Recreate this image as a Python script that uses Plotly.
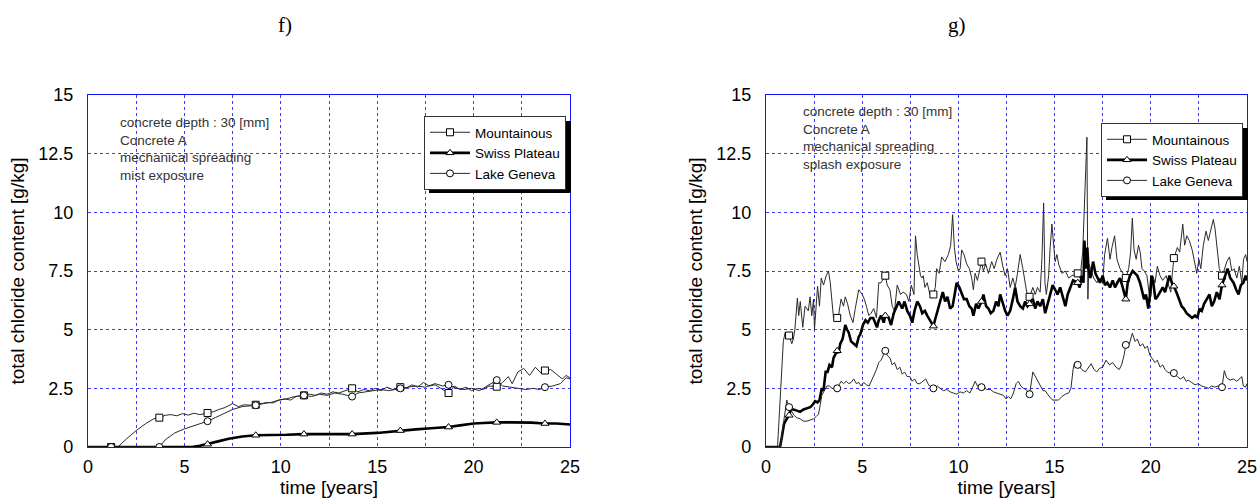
import numpy as np
import plotly.graph_objects as go

# ---------------- data ----------------
marker_times = [1.2, 3.7, 6.2, 8.7, 11.2, 13.7, 16.2, 18.7, 21.2, 23.7]
x_tick_vals = [0, 5, 10, 15, 20, 25]
x_tick_text = ["0", "5", "10", "15", "20", "25"]
y_tick_vals = [0, 2.5, 5, 7.5, 10, 12.5, 15]
y_tick_text = ["0", "2.5", "5", "7.5", "10", "12.5", "15"]
series_names = ["Mountainous", "Swiss Plateau", "Lake Geneva"]

# f) mist exposure
f_mount_t = [0, 1.2, 1.55, 2.0, 2.5, 3.0, 3.4, 3.7, 4.0, 4.3, 4.6, 4.9, 5.2, 5.5, 5.8, 6.2, 6.5, 6.8, 7.1, 7.5, 7.8, 8.1, 8.4, 8.7,
             9.0, 9.3, 9.6, 9.9, 10.2, 10.5, 10.8, 11.2, 11.5, 11.8, 12.1, 12.4, 12.7, 13.0, 13.3, 13.7, 14.0, 14.3, 14.6,
             14.9, 15.2, 15.5, 15.8, 16.2, 16.5, 16.8, 17.1, 17.4, 17.7, 18.0, 18.3, 18.7, 19.0, 19.3, 19.6, 19.9, 20.2,
             20.5, 20.8, 21.2, 21.5, 21.8, 22.0, 22.3, 22.6, 22.9, 23.2, 23.5, 23.7, 24.0, 24.3, 24.6, 24.8, 25.0]
f_mount_v = [0, 0, 0, 0.35, 0.7, 1.0, 1.2, 1.25, 1.35, 1.38, 1.33, 1.42, 1.36, 1.44, 1.38, 1.45, 1.5, 1.6, 1.68, 1.85, 1.72, 1.8, 1.78, 1.8,
             1.85, 1.9, 1.88, 2.0, 2.05, 2.0, 2.15, 2.2, 2.25, 2.2, 2.3, 2.25, 2.35, 2.3, 2.4, 2.5, 2.35, 2.45, 2.4,
             2.5, 2.4, 2.55, 2.45, 2.55, 2.5, 2.65, 2.55, 2.75, 2.6, 2.65, 2.5, 2.3, 2.6, 2.45, 2.55, 2.4, 2.5,
             2.45, 2.6, 2.57, 2.75, 3.0, 2.7, 3.2, 3.35, 3.05, 3.4, 3.15, 3.26, 3.3, 3.1, 2.9, 3.05, 2.95]

f_swiss_t = [0, 1.2, 3.7, 5.4, 5.8, 6.2, 6.8, 7.3, 8.0, 8.7, 9.5, 10.3, 11.2, 12.5, 13.7, 15.0, 15.6, 16.2, 17.0, 17.8,
             18.7, 19.3, 20.0, 20.5, 21.2, 22.0, 23.0, 23.7, 24.3, 25.0]
f_swiss_v = [0, 0, 0, 0, 0.05, 0.12, 0.25, 0.35, 0.45, 0.5, 0.5, 0.52, 0.55, 0.55, 0.55, 0.6, 0.65, 0.7, 0.75, 0.8,
             0.85, 0.92, 1.0, 1.02, 1.05, 1.05, 1.04, 1.0, 1.0, 0.96]

f_lake_t = [0, 1.2, 3.7, 4.0, 4.5, 5.0, 5.5, 6.2, 6.6, 7.0, 7.5, 8.0, 8.7, 9.1, 9.5, 9.9, 10.3, 10.7, 11.2, 11.6, 12.0,
            12.4, 12.8, 13.2, 13.7, 14.0, 14.4, 14.8, 15.2, 15.6, 16.2, 16.6, 17.0, 17.5, 18.0, 18.4, 18.7, 19.1, 19.5,
            19.9, 20.3, 20.7, 21.2, 21.5, 21.9, 22.3, 22.7, 23.1, 23.4, 23.7, 24.1, 24.5, 24.8, 25.0]
f_lake_v = [0, 0, 0, 0.3, 0.6, 0.77, 0.9, 1.1, 1.25, 1.4, 1.6, 1.72, 1.78, 1.85, 1.9, 2.0, 2.05, 2.15, 2.2, 2.15, 2.25,
            2.2, 2.3, 2.25, 2.15, 2.3, 2.35, 2.4, 2.45, 2.4, 2.5, 2.55, 2.6, 2.55, 2.7, 2.6, 2.65, 2.5, 2.45,
            2.5, 2.4, 2.6, 2.85, 2.6, 2.55, 2.5, 2.45, 2.5, 2.45, 2.55, 2.6, 2.7, 2.95, 2.9]

# g) splash exposure
g_mount_t = [0, 0.6, 0.7, 0.8, 0.9, 1.0, 1.1, 1.2, 1.34, 1.42, 1.5, 1.63, 1.7, 1.78, 1.91, 2.03, 2.2, 2.29, 2.38, 2.47, 2.52,
             2.68, 2.78, 2.87, 2.99, 3.13, 3.25, 3.34, 3.43, 3.51, 3.7, 3.77, 3.9, 4.03, 4.12, 4.24, 4.38, 4.52, 4.64, 4.82,
             5.0, 5.11, 5.22, 5.34, 5.46, 5.6, 5.74, 5.86, 5.98, 6.2, 6.3, 6.44, 6.56, 6.68, 6.82, 6.99, 7.13, 7.3, 7.43,
             7.55, 7.69, 7.77, 7.86, 7.95, 8.03, 8.1, 8.17, 8.26, 8.38, 8.52, 8.7, 8.8, 8.87, 9.0, 9.13, 9.3, 9.48, 9.6,
             9.7, 9.79, 9.88, 10.0, 10.09, 10.17, 10.29, 10.43, 10.57, 10.69, 10.78, 10.87, 10.99, 11.2, 11.3, 11.42,
             11.56, 11.73, 11.86, 12.0, 12.17, 12.31, 12.43, 12.55, 12.69, 12.83, 12.95, 13.07, 13.21, 13.35, 13.47,
             13.59, 13.7, 13.87, 13.99, 14.11, 14.25, 14.34, 14.43, 14.5, 14.57, 14.69, 14.77, 14.86, 14.95, 15.03,
             15.12, 15.21, 15.38, 15.56, 15.73, 15.9, 16.2, 16.32, 16.46, 16.58, 16.68, 16.73, 16.78, 16.91, 17.03,
             17.2, 17.33, 17.5, 17.6, 17.75, 17.88, 17.98, 18.12, 18.24, 18.4, 18.55, 18.7, 18.85, 18.95, 19.04, 19.13,
             19.24, 19.36, 19.45, 19.54, 19.66, 19.8, 19.92, 20.0, 20.1, 20.22, 20.34, 20.48, 20.62, 20.8, 20.92,
             21.04, 21.12, 21.2, 21.38, 21.5, 21.66, 21.76, 21.87, 22.0, 22.15, 22.3, 22.39, 22.5, 22.6, 22.73, 22.87,
             22.99, 23.12, 23.25, 23.34, 23.43, 23.56, 23.7, 23.8, 23.95, 24.09, 24.21, 24.33, 24.47, 24.6, 24.73,
             24.82, 24.93, 25.0]
g_mount_v = [0, 0, 1.5, 3.2, 4.5, 4.9, 4.7, 4.75, 4.4, 4.6, 5.0, 6.35, 5.6, 6.2, 5.1, 6.0, 5.8, 6.4, 5.6, 6.3, 5.0,
             6.85, 6.0, 7.2, 6.9, 7.3, 7.5, 7.0, 6.2, 5.5, 5.5, 5.6, 6.3, 6.0, 6.4, 6.1, 5.6, 5.3, 5.9, 6.7,
             6.5, 6.3, 6.0, 5.6, 5.7, 5.9, 5.5, 7.0, 7.0, 7.3, 6.9, 6.7, 6.0, 5.8, 6.9, 6.5, 6.6, 6.5, 6.2,
             6.9, 6.5, 9.0, 8.2, 7.7, 7.3, 7.2, 7.3, 6.8, 7.0, 6.5, 6.5, 6.8, 7.6, 7.4, 8.1, 7.9, 8.2, 8.6,
             9.9, 8.5, 7.9, 7.5, 7.6, 8.4, 8.2, 7.8, 7.6, 7.2, 6.7, 7.4, 7.1, 7.9, 7.5, 7.8,
             7.4, 7.9, 7.6, 8.0, 8.3, 7.7, 7.3, 7.6, 6.8, 7.2, 6.8, 7.4, 8.2, 7.6, 6.9,
             6.4, 6.4, 6.8, 6.5, 6.8, 6.6, 8.0, 10.4, 7.0, 6.5, 7.3, 8.5, 9.5, 8.6, 7.9,
             8.2, 7.8, 7.4, 7.5, 7.2, 7.3, 7.4, 7.2, 8.3, 10.6, 13.2, 6.3, 7.8, 7.5, 7.2,
             7.0, 7.2, 7.0, 8.2, 8.9, 8.0, 8.5, 9.0, 8.0, 7.6, 7.4, 7.2, 7.6, 8.3, 9.75, 8.4,
             8.0, 8.6, 8.3, 7.6, 7.5, 7.3, 6.5, 6.4, 7.3, 7.0, 7.7, 7.3, 7.1, 7.3, 6.9,
             6.6, 7.4, 8.05, 8.5, 8.3, 9.5, 8.6, 9.0, 8.8, 8.4, 7.8, 7.4, 8.0, 7.6, 8.6, 9.2,
             8.8, 9.3, 9.7, 9.3, 8.5, 7.6, 7.3, 7.5, 7.9, 8.1, 7.5, 7.6, 7.2, 7.7, 7.0,
             8.0, 8.2, 7.9]

g_swiss_t = [0, 0.73, 0.82, 0.94, 1.08, 1.2, 1.3, 1.43, 1.6, 1.77, 1.95, 2.12, 2.3, 2.43, 2.55, 2.68, 2.78, 2.9, 2.99, 3.1,
             3.2, 3.3, 3.43, 3.51, 3.7, 3.77, 3.86, 3.98, 4.12, 4.21, 4.29, 4.42, 4.56, 4.7, 4.82, 4.9, 5.04, 5.17, 5.29,
             5.43, 5.57, 5.69, 5.77, 5.86, 5.98, 6.12, 6.2, 6.38, 6.5, 6.64, 6.78, 6.9, 7.08, 7.2, 7.34, 7.48, 7.6, 7.72,
             7.86, 8.0, 8.12, 8.26, 8.38, 8.52, 8.7, 8.78, 8.9, 9.05, 9.19, 9.31, 9.43, 9.57, 9.7, 9.83, 9.91, 10.05,
             10.17, 10.29, 10.43, 10.57, 10.69, 10.78, 10.92, 11.04, 11.2, 11.3, 11.44, 11.56, 11.68, 11.82, 11.96,
             12.08, 12.17, 12.31, 12.43, 12.55, 12.69, 12.83, 12.95, 13.07, 13.21, 13.35, 13.47, 13.59, 13.7, 13.87,
             13.99, 14.11, 14.25, 14.39, 14.51, 14.63, 14.77, 14.9, 15.03, 15.15, 15.29, 15.43, 15.56, 15.68, 15.82,
             15.96, 16.2, 16.3, 16.41, 16.5, 16.55, 16.62, 16.7, 16.76, 16.86, 17.0, 17.12, 17.22, 17.36, 17.5, 17.62,
             17.74, 17.88, 18.02, 18.14, 18.26, 18.4, 18.54, 18.7, 18.8, 18.92, 19.06, 19.18, 19.3, 19.44, 19.54,
             19.65, 19.75, 19.87, 19.96, 20.04, 20.13, 20.24, 20.34, 20.48, 20.62, 20.74, 20.86, 20.97, 21.09, 21.2,
             21.38, 21.48, 21.6, 21.72, 21.86, 22.0, 22.14, 22.3, 22.42, 22.53, 22.65, 22.77, 22.91, 23.05, 23.17,
             23.29, 23.43, 23.57, 23.7, 23.87, 23.99, 24.13, 24.3, 24.44, 24.56, 24.68, 24.81, 24.93, 25.0]
g_swiss_v = [0, 0, 0.4, 1.0, 1.2, 1.35, 1.6, 1.6, 1.55, 1.5, 1.6, 1.65, 1.7, 1.8, 1.95, 1.9, 2.0, 2.5, 2.4, 3.2,
             3.2, 3.5, 3.4, 3.8, 4.1, 4.0, 4.4, 4.6, 5.2, 5.0, 4.9, 4.5, 4.4, 4.3, 4.7, 4.8, 5.2, 5.4, 5.3,
             5.5, 5.5, 5.3, 5.1, 5.4, 5.6, 5.3, 5.6, 5.5, 5.2, 5.7, 6.0, 6.2, 5.9, 6.2, 5.8, 5.6, 5.3, 5.8,
             6.2, 6.0, 5.7, 5.8, 5.6, 5.4, 5.15, 5.4, 5.8, 6.2, 6.6, 6.2, 6.4, 5.9, 6.0, 6.6, 7.0, 6.8,
             6.5, 6.3, 6.3, 6.0, 5.9, 5.6, 6.1, 5.9, 6.2, 6.5, 6.0, 5.9, 5.7, 5.8, 6.2,
             6.0, 6.5, 6.1, 5.8, 5.6, 5.8, 6.3, 6.8, 6.2, 6.0, 5.9, 6.2, 6.0, 6.1, 6.3,
             5.9, 6.2, 6.0, 6.3, 5.7, 6.1, 6.5, 6.9, 6.7, 6.5, 6.8, 6.4, 6.0, 6.5, 6.8,
             7.1, 7.0, 6.8, 7.3, 7.0, 8.8, 7.6, 8.5, 7.6, 7.2, 7.9, 7.4, 7.2, 7.0, 7.3, 6.9,
             7.0, 6.8, 7.1, 6.8, 7.0, 7.2, 6.8, 6.3, 7.0, 7.3, 7.5, 7.4, 7.3, 7.0, 6.6,
             6.3, 6.5, 5.9, 6.5, 7.3, 7.0, 6.3, 6.4, 6.6, 6.8, 6.6, 7.0, 7.3, 7.0, 6.85,
             6.5, 6.3, 6.0, 5.9, 5.7, 5.6, 5.5, 5.6, 5.5, 5.9, 5.8, 6.1, 6.3, 6.5, 6.0,
             6.2, 6.6, 6.3, 6.9, 7.3, 7.6, 7.2, 7.0, 6.7, 6.5, 6.9, 7.0, 7.3, 7.1]

g_lake_t = [0, 0.75, 0.87, 0.99, 1.08, 1.2, 1.34, 1.46, 1.6, 1.77, 1.95, 2.12, 2.3, 2.47, 2.61, 2.73, 2.82, 2.9, 3.03,
            3.17, 3.3, 3.43, 3.7, 3.77, 3.9, 4.03, 4.17, 4.3, 4.42, 4.56, 4.7, 4.82, 4.94, 5.08, 5.22, 5.36, 5.48,
            5.6, 5.74, 5.86, 5.98, 6.2, 6.3, 6.44, 6.56, 6.68, 6.82, 6.96, 7.08, 7.2, 7.34, 7.48, 7.6, 7.72, 7.86,
            8.0, 8.13, 8.3, 8.42, 8.5, 8.7, 8.78, 8.9, 9.05, 9.22, 9.4, 9.57, 9.74, 9.91, 10.09, 10.26, 10.43, 10.6,
            10.74, 10.87, 10.99, 11.2, 11.3, 11.47, 11.65, 11.82, 11.99, 12.17, 12.34, 12.48, 12.6, 12.72, 12.86,
            13.0, 13.12, 13.24, 13.38, 13.52, 13.7, 13.87, 14.0, 14.12, 14.26, 14.4, 14.51, 14.63, 14.77, 14.91,
            15.03, 15.2, 15.38, 15.56, 15.73, 15.85, 15.96, 16.04, 16.2, 16.42, 16.6, 16.77, 16.9, 17.05, 17.19,
            17.33, 17.5, 17.67, 17.85, 18.02, 18.19, 18.36, 18.48, 18.61, 18.7, 18.89, 19.04, 19.18, 19.3, 19.44,
            19.58, 19.7, 19.82, 19.96, 20.1, 20.22, 20.34, 20.48, 20.62, 20.74, 20.86, 21.0, 21.14, 21.2, 21.44,
            21.56, 21.7, 21.84, 21.95, 22.12, 22.3, 22.47, 22.64, 22.82, 23.0, 23.16, 23.33, 23.5, 23.62, 23.7,
            23.82, 23.94, 24.12, 24.3, 24.47, 24.6, 24.73, 24.81, 24.93, 25.0]
g_lake_v = [0, 0, 0.8, 1.5, 2.0, 1.7, 1.5, 1.35, 1.25, 1.2, 1.1, 1.1, 1.15, 1.2, 1.3, 1.4, 1.8, 2.2, 2.4,
            2.6, 2.6, 2.5, 2.5, 2.6, 2.8, 2.7, 2.8, 2.7, 2.75, 2.9, 2.7, 2.75, 2.6, 2.75, 2.65, 2.6, 2.8,
            3.0, 3.3, 3.6, 3.7, 4.1, 3.9, 3.8, 3.5, 3.6, 3.3, 3.4, 3.1, 3.2, 3.0, 3.0, 2.8, 2.9, 2.7,
            2.7, 2.8, 2.9, 2.7, 2.6, 2.5, 2.55, 2.6, 2.5, 2.4, 2.45, 2.35, 2.3, 2.25, 2.35, 2.3, 2.4, 2.3,
            2.55, 2.8, 2.6, 2.55, 2.6, 2.45, 2.45, 2.35, 2.3, 2.25, 2.2, 2.05, 2.15, 2.05, 2.3,
            2.7, 2.8, 2.6, 2.5, 2.45, 2.25, 3.2, 3.0, 2.8, 2.6, 2.4, 2.4, 2.25, 2.1, 2.0,
            2.0, 2.0, 2.15, 2.25, 2.3, 2.5, 3.3, 3.6, 3.5, 3.3, 3.2, 3.4, 3.55, 3.3, 3.2,
            3.35, 3.4, 3.7, 3.5, 3.6, 3.4, 3.3, 3.5, 3.9, 4.35, 4.4, 4.85, 4.5, 4.6, 4.3,
            4.4, 4.2, 4.3, 3.9, 3.75, 3.6, 3.7, 3.4, 3.5, 3.3, 3.2, 3.15, 3.2, 3.15, 2.95,
            2.9, 3.0, 2.8, 2.85, 2.75, 2.65, 2.7, 2.6, 2.55, 2.5, 2.6, 2.55, 2.6, 2.55, 2.55,
            3.25, 2.95, 2.85, 2.9, 2.8, 2.9, 3.0, 2.6, 2.55, 2.7]

# ---------------- figure ----------------
W, H = 1258, 502
FONT = "Liberation Sans, Arial, sans-serif"
AXIS_BLUE = "rgb(20,20,255)"
GRID_BLUE = "rgb(60,60,255)"
GRID_DASH = "dot"

styles = [
    dict(symbol="square", width=1.0, color="#2a2a2a"),
    dict(symbol="triangle-up", width=2.6, color="#000000"),
    dict(symbol="circle", width=1.0, color="#2a2a2a"),
]

panels = [
    (1, [(f_mount_t, f_mount_v), (f_swiss_t, f_swiss_v), (f_lake_t, f_lake_v)]),
    (2, [(g_mount_t, g_mount_v), (g_swiss_t, g_swiss_v), (g_lake_t, g_lake_v)]),
]

fig = go.Figure()
for p, data in panels:
    xa = "x" if p == 1 else "x2"
    ya = "y" if p == 1 else "y2"
    for i, (t, v) in enumerate(data):
        st = styles[i]
        t = np.asarray(t, float)
        v = np.asarray(v, float)
        fig.add_trace(go.Scatter(x=t, y=v, mode="lines", xaxis=xa, yaxis=ya,
                                 line=dict(color=st["color"], width=st["width"]),
                                 showlegend=False, hoverinfo="skip"))
        idx = [int(np.argmin(np.abs(t - m))) for m in marker_times]
        fig.add_trace(go.Scatter(x=t[idx], y=v[idx], mode="markers", xaxis=xa, yaxis=ya,
                                 marker=dict(symbol=st["symbol"], size=7, color="white",
                                             line=dict(color="black", width=1)),
                                 showlegend=False, hoverinfo="skip"))
        # legend entry
        fig.add_trace(go.Scatter(x=[None], y=[None], mode="lines+markers", xaxis=xa, yaxis=ya,
                                 name=series_names[i],
                                 legend="legend" if p == 1 else "legend2",
                                 line=dict(color=st["color"], width=st["width"]),
                                 marker=dict(symbol=st["symbol"], size=7, color="white",
                                             line=dict(color="black", width=1))))

dom_y = [(H - 447) / H, (H - 95) / H]
dom_x1 = [88 / W, 570 / W]
dom_x2 = [766 / W, 1247 / W]


def xaxis(dom, anchor):
    return dict(domain=dom, anchor=anchor, range=[0, 25], tickvals=x_tick_vals, ticktext=x_tick_text,
                automargin=False,
                showline=True, mirror=True, linecolor=AXIS_BLUE, linewidth=1.2,
                showgrid=True, gridcolor=GRID_BLUE, griddash=GRID_DASH, gridwidth=1,
                minor=dict(tickvals=[2.5, 7.5, 12.5, 17.5, 22.5], showgrid=True, gridcolor=GRID_BLUE,
                           griddash=GRID_DASH, gridwidth=1, ticks=""),
                zeroline=False, ticks="", ticklabelstandoff=3,
                tickfont=dict(family=FONT, size=18, color="black"),
                title=dict(text="time [years]", font=dict(family=FONT, size=19, color="black"), standoff=4))


def yaxis(dom, anchor):
    return dict(domain=dom, anchor=anchor, range=[0, 15], tickvals=y_tick_vals, ticktext=y_tick_text,
                automargin=False,
                showline=True, mirror=True, linecolor=AXIS_BLUE, linewidth=1.2,
                showgrid=True, gridcolor=GRID_BLUE, griddash=GRID_DASH, gridwidth=1,
                zeroline=False, ticks="", ticklabelstandoff=10,
                tickfont=dict(family=FONT, size=18, color="black"),
                title=dict(text="total chloride content [g/kg]", font=dict(family=FONT, size=19, color="black"),
                           standoff=8))


legend_common = dict(bgcolor="white", bordercolor="#333333", borderwidth=1,
                     font=dict(family=FONT, size=13.5, color="black"),
                     itemwidth=40, xanchor="right", yanchor="top", tracegroupgap=0,
                     itemclick=False)

fig.update_layout(
    template="none",
    width=W, height=H, margin=dict(l=0, r=0, t=0, b=0, autoexpand=False),
    paper_bgcolor="white", plot_bgcolor="white",
    xaxis=xaxis(dom_x1, "y"), yaxis=yaxis(dom_y, "x"),
    xaxis2=xaxis(dom_x2, "y2"), yaxis2=yaxis(dom_y, "x2"),
    legend=dict(x=566 / W, y=(H - 116) / H, **legend_common),
    legend2=dict(x=1243 / W, y=(H - 123) / H, **legend_common),
    showlegend=True,
)

# drop shadows of the legend boxes (a black block offset down-right behind each legend)
for (left, top, right, bottom) in [(424, 116, 566, 188), (1101, 123, 1243, 195)]:
    fig.add_shape(type="rect", xref="paper", yref="paper",
                  x0=(left + 5) / W, x1=(right + 5) / W, y0=(H - bottom - 5) / H, y1=(H - top - 5) / H,
                  fillcolor="black", line=dict(width=0), layer="above")

# panel labels and condition notes
fig.add_annotation(text="f)", x=285 / W, y=(H - 25) / H, xref="paper", yref="paper", showarrow=False,
                   xanchor="center", yanchor="middle",
                   font=dict(family="Liberation Serif, Times New Roman, serif", size=21, color="black"))
fig.add_annotation(text="g)", x=957 / W, y=(H - 25) / H, xref="paper", yref="paper", showarrow=False,
                   xanchor="center", yanchor="middle",
                   font=dict(family="Liberation Serif, Times New Roman, serif", size=21, color="black"))
fig.add_annotation(text="concrete depth : 30 [mm]<br>Concrete A<br>mechanical spreading<br>mist exposure",
                   x=118 / W, y=(H - 113) / H, xref="paper", yref="paper", showarrow=False,
                   xanchor="left", yanchor="top", align="left",
                   font=dict(family=FONT, size=13.5, color="#333333"))
fig.add_annotation(text="concrete depth : 30 [mm]<br>Concrete A<br>mechanical spreading<br>splash exposure",
                   x=801 / W, y=(H - 102) / H, xref="paper", yref="paper", showarrow=False,
                   xanchor="left", yanchor="top", align="left",
                   font=dict(family=FONT, size=13.5, color="#333333"))

fig.write_html("out.html")
